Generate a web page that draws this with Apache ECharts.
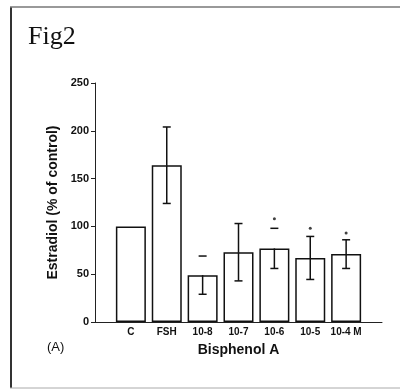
<!DOCTYPE html>
<html>
<head>
<meta charset="utf-8">
<title>Fig2</title>
<script src="https://cdn.jsdelivr.net/npm/echarts@6/dist/echarts.min.js"></script>
<style>
  html, body { margin: 0; padding: 0; background: #fff; }
  #chart { width: 400px; height: 390px; }
</style>
</head>
<body>
<div id="chart"></div>
<script>
  // blank slots at both ends keep the bars off the axes
  var categories = ['', 'C', 'FSH', '10-8', '10-7', '10-6', '10-5', '10-4 M', ''];
  var means = [null, 100, 164, 49, 73, 77, 67, 71, null];
  var sds = [null, 0, 40, 20, 30, 21, 22.5, 15, null];
  // upper stem of the error bar is faded out on the scan for 10-8 and 10-6
  var upperStem = [0, 0, 1, 0, 1, 0, 1, 1, 0];
  var stars = [null, null, null, null, null, 108, 98, 93, null];
  var yTicks = [0, 50, 100, 150, 200, 250];

  var errData = [];
  for (var i = 0; i < means.length; i++) {
    if (means[i] != null && sds[i] > 0) {
      errData.push([i, means[i], means[i] - sds[i], means[i] + sds[i], upperStem[i]]);
    }
  }
  var starData = [];
  for (var j = 0; j < stars.length; j++) {
    if (stars[j] != null) starData.push([j, stars[j]]);
  }

  var chart = echarts.init(document.getElementById('chart'));
  var lab = { color: '#111', fontFamily: 'Liberation Sans, Arial, sans-serif', fontWeight: 'bold' };

  chart.setOption({
    animation: false,
    backgroundColor: '#fff',
    grid: { left: 95, right: 18, top: 83, bottom: 68 },
    xAxis: {
      type: 'category',
      data: categories,
      boundaryGap: false,
      name: 'Bisphenol A',
      nameLocation: 'middle',
      nameGap: 21,
      nameTextStyle: Object.assign({ fontSize: 14 }, lab),
      axisLine: { lineStyle: { color: '#222', width: 1 } },
      axisTick: { show: false },
      axisLabel: Object.assign({ fontSize: 10, margin: 5, interval: 0 }, lab),
      splitLine: { show: false }
    },
    yAxis: {
      type: 'value',
      min: yTicks[0],
      max: yTicks[yTicks.length - 1],
      interval: 50,
      name: 'Estradiol (% of control)',
      nameLocation: 'middle',
      nameGap: 30,
      nameTextStyle: Object.assign({ fontSize: 14 }, lab),
      axisLine: { show: true, lineStyle: { color: '#222', width: 1 } },
      axisTick: { show: true, length: 4, lineStyle: { color: '#222' } },
      axisLabel: Object.assign({ fontSize: 11, margin: 6 }, lab),
      splitLine: { show: false }
    },
    graphic: [
      { type: 'line', shape: { x1: 11, y1: 7, x2: 11, y2: 388 }, style: { stroke: '#333', lineWidth: 2 } },
      { type: 'line', shape: { x1: 10, y1: 7, x2: 400, y2: 7 }, style: { stroke: '#777', lineWidth: 1.5 } },
      { type: 'line', shape: { x1: 10, y1: 388, x2: 400, y2: 388 }, style: { stroke: '#aaa', lineWidth: 1 } },
      { type: 'text', left: 28, top: 24, style: { text: 'Fig2', fontSize: 26, fontFamily: 'Liberation Serif, DejaVu Serif, serif', fill: '#111' } },
      { type: 'text', left: 47, top: 341, style: { text: '(A)', fontSize: 13, fontFamily: 'Liberation Sans, Arial, sans-serif', fill: '#111' } }
    ],
    series: [
      {
        type: 'bar',
        data: means,
        barWidth: 30,
        itemStyle: { color: '#fff', borderColor: '#111', borderWidth: 1.5 }
      },
      {
        type: 'custom',
        data: errData,
        z: 5,
        renderItem: function (params, api) {
          var x = api.value(0);
          var mid = api.coord([x, api.value(1)]);
          var lo = api.coord([x, api.value(2)]);
          var hi = api.coord([x, api.value(3)]);
          var cw = 4;
          var st = { stroke: '#111', lineWidth: 1.5 };
          var kids = [
            { type: 'line', shape: { x1: mid[0], y1: mid[1], x2: lo[0], y2: lo[1] }, style: st },
            { type: 'line', shape: { x1: lo[0] - cw, y1: lo[1], x2: lo[0] + cw, y2: lo[1] }, style: st },
            { type: 'line', shape: { x1: hi[0] - cw, y1: hi[1], x2: hi[0] + cw, y2: hi[1] }, style: st }
          ];
          if (api.value(4)) {
            kids.push({ type: 'line', shape: { x1: mid[0], y1: mid[1], x2: hi[0], y2: hi[1] }, style: st });
          }
          return { type: 'group', children: kids };
        }
      },
      {
        type: 'scatter',
        data: starData,
        symbol: 'circle',
        symbolSize: 3,
        itemStyle: { color: '#111' }
      }
    ]
  });
</script>
</body>
</html>
